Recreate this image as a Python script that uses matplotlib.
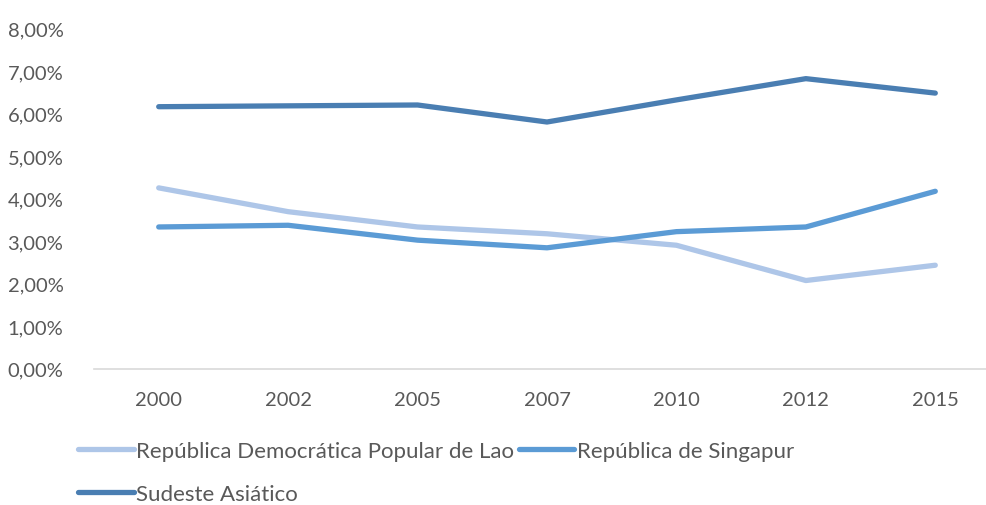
import matplotlib
matplotlib.use("Agg")
import matplotlib.pyplot as plt
from matplotlib.ticker import FuncFormatter

years = ["2000", "2002", "2005", "2007", "2010", "2012", "2015"]
lao = [4.25, 3.69, 3.33, 3.17, 2.90, 2.07, 2.43]
singapur = [3.33, 3.37, 3.02, 2.84, 3.22, 3.33, 4.17]
sudeste = [6.16, 6.18, 6.20, 5.80, 6.32, 6.82, 6.48]

series = [
    ("República Democrática Popular de Lao", lao, "#AEC6E8"),
    ("República de Singapur", singapur, "#5B9BD5"),
    ("Sudeste Asiático", sudeste, "#4A7EB2"),
]

plt.rcParams["font.family"] = ["Lato", "DejaVu Sans"]
text_color = "#595959"

fig = plt.figure(figsize=(9.87, 5.06), dpi=100)
ax = fig.add_axes([94 / 987, 1 - 369.5 / 506, 906 / 987, 340 / 506])

x = range(len(years))
lines = {}
for name, vals, col in series:
    ln, = ax.plot(x, vals, color=col, linewidth=3.8, solid_capstyle="round",
                  solid_joinstyle="round", label=name)
    lines[name] = ln

ax.set_xlim(-0.5, 6.5)
ax.set_ylim(0, 8)
ax.set_yticks(range(0, 9))
ax.yaxis.set_major_formatter(FuncFormatter(lambda v, p: f"{v:.2f}%".replace(".", ",")))
ax.set_xticks(list(x))
ax.set_xticklabels(years)
ax.tick_params(axis="both", length=0, labelsize=14.5, labelcolor=text_color)
ax.tick_params(axis="x", pad=16)
ax.tick_params(axis="y", pad=22)

for s in ["top", "right", "left"]:
    ax.spines[s].set_visible(False)
ax.spines["bottom"].set_color("#D9D9D9")
ax.spines["bottom"].set_linewidth(1.2)

# legend fills column-wise, so order gives Lao / Singapur on row 1, Sudeste on row 2
order = [series[0][0], series[2][0], series[1][0]]
leg = fig.legend([lines[n] for n in order], order,
                 loc="upper left", bbox_to_anchor=(78 / 987, 1 - 442 / 506),
                 ncol=2, frameon=False, fontsize=16, handlelength=2.5,
                 handletextpad=0.12, columnspacing=0.2, labelspacing=1.02,
                 borderpad=0, borderaxespad=0)
for t in leg.get_texts():
    t.set_color(text_color)

fig.savefig("out.png", dpi=100)
